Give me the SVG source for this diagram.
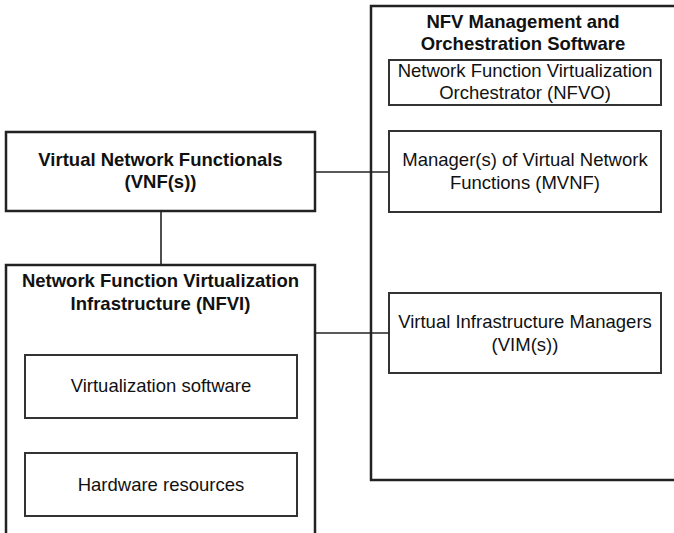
<svg xmlns="http://www.w3.org/2000/svg" width="674" height="533" viewBox="0 0 674 533">
  <style>
    text { font-family: "Liberation Sans", Arial, Helvetica, sans-serif; font-size: 18.5px; fill: #111; text-anchor: middle; }
    .bold { font-weight: bold; }
    .outer { fill: #fff; stroke: #222; stroke-width: 2.5; }
    .inner { fill: #fff; stroke: #333; stroke-width: 2; }
    .link { stroke: #222; stroke-width: 1.6; fill: none; }
  </style>
  <rect width="674" height="533" fill="#fff"/>

  <!-- NFV management and orchestration container -->
  <g id="nfv-mano">
    <rect class="outer" x="371" y="6" width="320" height="474"/>
    <text class="bold" x="523" y="28">NFV Management and</text>
    <text class="bold" x="523" y="50">Orchestration Software</text>
  </g>
  <g id="nfvo">
    <rect class="inner" x="389" y="60" width="272" height="45"/>
    <text x="525" y="77">Network Function Virtualization</text>
    <text x="525" y="99">Orchestrator (NFVO)</text>
  </g>
  <g id="mvnf">
    <rect class="inner" x="389" y="131" width="272" height="81"/>
    <text x="525" y="166">Manager(s) of Virtual Network</text>
    <text x="525" y="189">Functions (MVNF)</text>
  </g>
  <g id="vim">
    <rect class="inner" x="389" y="293" width="272" height="80"/>
    <text x="525" y="328">Virtual Infrastructure Managers</text>
    <text x="525" y="351">(VIM(s))</text>
  </g>

  <!-- VNF -->
  <g id="vnf">
    <rect class="outer" x="6" y="132" width="309" height="79"/>
    <text class="bold" x="160.5" y="166">Virtual Network Functionals</text>
    <text class="bold" x="160.5" y="188">(VNF(s))</text>
  </g>

  <!-- NFVI container -->
  <g id="nfvi">
    <rect class="outer" x="6" y="265" width="309" height="290"/>
    <text class="bold" x="160.5" y="287">Network Function Virtualization</text>
    <text class="bold" x="160.5" y="310">Infrastructure (NFVI)</text>
  </g>
  <g id="virt-software">
    <rect class="inner" x="25" y="355" width="272" height="63"/>
    <text x="161" y="392">Virtualization software</text>
  </g>
  <g id="hardware">
    <rect class="inner" x="25" y="453" width="272" height="63"/>
    <text x="161" y="491">Hardware resources</text>
  </g>

  <!-- connectors -->
  <g id="connectors">
    <line class="link" x1="315" y1="172" x2="389" y2="172"/>
    <line class="link" x1="161" y1="211" x2="161" y2="265"/>
    <line class="link" x1="315" y1="333" x2="389" y2="333"/>
  </g>
</svg>
